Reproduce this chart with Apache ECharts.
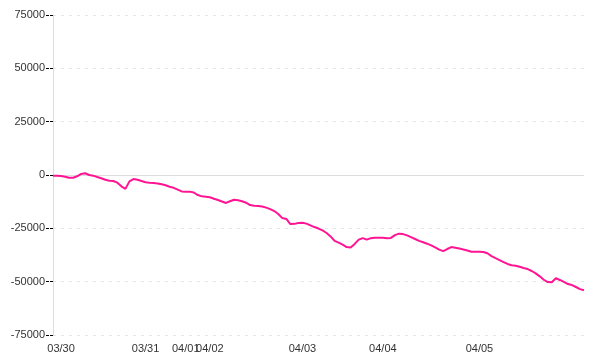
<!DOCTYPE html>
<html>
<head>
<meta charset="utf-8">
<script src="https://cdn.jsdelivr.net/npm/echarts@6/dist/echarts.min.js"></script>
<style>html,body{margin:0;padding:0;background:#fff;}#c{width:600px;height:360px;}</style>
</head>
<body>
<div id="c"></div>
<script>
// series values (sampled along the time line)
const values = [
  -300, -400, -500, -800, -1300, -1300, -600, 500, 800, 0,
  -300, -950, -1550, -2250, -2700, -2800, -3600, -5300, -6500, -3000,
  -1900, -2200, -2800, -3400, -3600, -3750, -4000, -4350, -4800, -5500,
  -6000, -6850, -7700, -7800, -7800, -8200, -9400, -10000, -10200, -10450,
  -11100, -11700, -12400, -13100, -12300, -11600, -11800, -12300, -13000, -14100,
  -14400, -14500, -14800, -15300, -16000, -16900, -18300, -20200, -20600, -23000,
  -22900, -22500, -22400, -22800, -23600, -24400, -25100, -26000, -27200, -28800,
  -30900, -31700, -32600, -33800, -34000, -32300, -30300, -29600, -30300, -29600,
  -29400, -29400, -29400, -29700, -29500, -28200, -27500, -27700, -28300, -29100,
  -30000, -30900, -31500, -32200, -33000, -33900, -35000, -35700, -34700, -33800,
  -34100, -34500, -34900, -35400, -36000, -36000, -36000, -36100, -36700, -38000,
  -39000, -39900, -40800, -41700, -42300, -42500, -43000, -43600, -44100, -45000,
  -46100, -47500, -49100, -50200, -50300, -48400, -49200, -50100, -51100, -51600,
  -52500, -53500, -54000
];
// categories: sample indices
const categories = values.map((_, i) => String(i));
// tick labels and the sample index at which each appears
const tickLabels = ['03/30', '03/31', '04/01', '04/02', '04/03', '04/04', '04/05'];
const tickIndex = [2, 23, 33, 39, 62, 82, 106];
const yTicks = { min: -75000, max: 75000, interval: 25000 };

const labelAt = {};
tickIndex.forEach((k, j) => { labelAt[k] = tickLabels[j]; });

const chart = echarts.init(document.getElementById('c'), null, { renderer: 'canvas' });
const font = 'Liberation Sans';
chart.setOption({
  animation: false,
  backgroundColor: '#ffffff',
  grid: { left: 53, right: 16, top: 15, bottom: 25, containLabel: false },
  xAxis: {
    type: 'category',
    data: categories,
    boundaryGap: false,
    axisLine: { show: false, onZero: false },
    axisTick: { show: false },
    splitLine: { show: false },
    axisLabel: {
      interval: (idx) => labelAt[idx] !== undefined,
      formatter: (val, idx) => labelAt[idx] || '',
      color: '#333',
      fontFamily: font,
      fontSize: 11,
      margin: 8,
      hideOverlap: false
    }
  },
  yAxis: {
    type: 'value',
    min: yTicks.min,
    max: yTicks.max,
    interval: yTicks.interval,
    axisLine: { show: true, lineStyle: { color: '#dddddd', width: 1 } },
    axisTick: { show: true, length: 7, lineStyle: { color: '#000', type: [3, 1], width: 1 } },
    axisLabel: { color: '#333', fontFamily: font, fontSize: 11, margin: 8, formatter: (v) => String(v) },
    splitLine: { show: true, lineStyle: { color: '#e6e6e6', type: [3, 5], width: 1 } }
  },
  series: [{
    type: 'line',
    data: values,
    showSymbol: false,
    symbol: 'none',
    lineStyle: { color: '#ff1493', width: 2 },
    itemStyle: { color: '#ff1493' },
    markLine: {
      silent: true,
      symbol: ['none', 'none'],
      label: { show: false },
      lineStyle: { color: '#dddddd', type: 'solid', width: 1 },
      data: [{ yAxis: 0 }],
      z: 1
    },
    z: 3
  }]
});
</script>
</body>
</html>
